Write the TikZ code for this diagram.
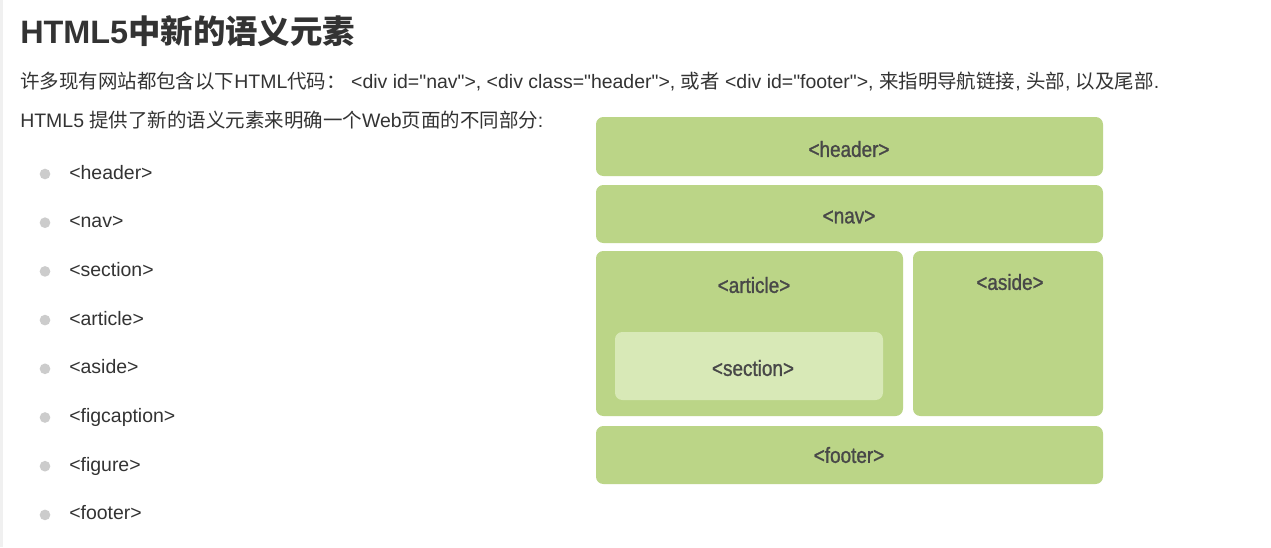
\documentclass[tikz,border=0pt]{standalone}
\usepackage{fontspec}
\setmainfont{Liberation Sans}[Ligatures=TeXOff]
\newfontfamily\cjk{Noto Sans CJK SC}
\newfontfamily\labelfont{Liberation Sans}[FakeBold=1.2,FakeStretch=0.86,Ligatures=TeXOff]
\definecolor{txt}{HTML}{333333}
\definecolor{boxg}{HTML}{BBD587}
\definecolor{secg}{HTML}{D8E9B7}
\definecolor{lbl}{HTML}{484848}
\definecolor{bul}{HTML}{CCCCCC}
\definecolor{strip}{HTML}{F0F0F0}
\begin{document}
\begin{tikzpicture}[x=0.75pt,y=-0.75pt,
  bodytext/.style={anchor=base west,inner sep=0pt,text=txt,font=\fontsize{14.6pt}{17pt}\selectfont},
  blabel/.style={inner sep=0pt,text=lbl,font=\labelfont\fontsize{16.5pt}{20pt}\selectfont},
  greenbox/.style={fill=boxg,rounded corners=5.5pt},
  secbox/.style={fill=secg,rounded corners=5.5pt},
  dot/.style={circle,fill=bul,inner sep=0pt,minimum size=8pt}]
\useasboundingbox[fill=white] (0,0) rectangle (1271,547);
\fill[strip] (0,0) rectangle (3,547);
% title
\node[anchor=base west,inner sep=0pt,text=txt,font=\bfseries\fontsize{24.3pt}{28pt}\selectfont] (title) at (20,43)
  {HTML5{\cjk\bfseries 中新的语义元素}};
% line 2
\node[bodytext] (intro) at (20,88)
  {{\cjk 许多现有网站都包含以下}HTML{\cjk 代码：}\ <div id="nav">, <div class="header">, {\cjk 或者} <div id="footer">, {\cjk 来指明导航链接}, {\cjk 头部}, {\cjk 以及尾部}.};
% line 3
\node[bodytext] (provide) at (20,127)
  {HTML5 {\cjk 提供了新的语义元素来明确一个}Web{\cjk 页面的不同部分}:};
% bullet list
\foreach \t [count=\i] in {<header>,<nav>,<section>,<article>,<aside>,<figcaption>,<figure>,<footer>}{
  \node[dot] (d\i) at (45,{174+48.7*(\i-1)}) {};
  \node[bodytext] (item\i) at (69,{179+48.7*(\i-1)}) {\t};
}
% diagram
\fill[greenbox] (596,117) rectangle (1103,176);
\node[blabel] (header) at (849,149) {<header>};
\fill[greenbox] (596,185) rectangle (1103,243);
\node[blabel] (nav) at (849,217) {<nav>};
\fill[greenbox] (596,251) rectangle (903,416);
\node[blabel] (article) at (754,285) {<article>};
\fill[secbox] (615,332) rectangle (883,400);
\node[blabel] (section) at (753,368) {<section>};
\fill[greenbox] (913,251) rectangle (1103,416);
\node[blabel] (aside) at (1010,282) {<aside>};
\fill[greenbox] (596,426) rectangle (1103,484);
\node[blabel] (footer) at (849,455) {<footer>};
\end{tikzpicture}
\end{document}
